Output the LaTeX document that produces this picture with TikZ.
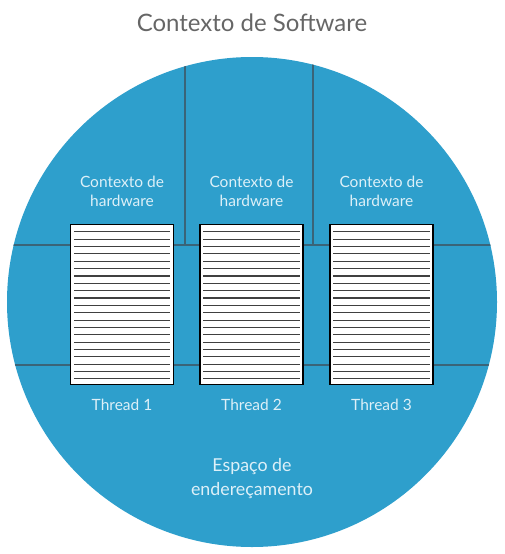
\documentclass[tikz,border=0pt]{standalone}
\usepackage{fontspec}
\setmainfont{Lato}
\definecolor{disc}{HTML}{2E9FCC}
\definecolor{divline}{HTML}{3A6478}
\definecolor{lighttext}{HTML}{DDF0F8}
\definecolor{titlegray}{HTML}{666666}
\tikzset{
  x=1pt, y=-1pt,
  divider/.style={draw=divline, line width=1.4pt},
  pagebox/.style={draw=black, fill=white, line width=1.3pt},
  pageline/.style={draw=black!75, line width=1.1pt},
  label/.style={text=lighttext, font=\fontsize{15.5}{19}\selectfont, align=center, inner sep=0pt},
}
\begin{document}
\begin{tikzpicture}
\useasboundingbox (0,0) rectangle (505,554);
\node[text=titlegray, font=\fontsize{24}{28}\selectfont, inner sep=0pt] (title) at (252,23) {Contexto de Software};
\fill[disc] (252,302) circle (245);
\begin{scope}
  \clip (252,302) circle (245);
  \draw[divider] (185,40) -- (185,245);
  \draw[divider] (313,40) -- (313,245);
  \draw[divider] (0,245) -- (505,245);
  \draw[divider] (0,365) -- (505,365);
\end{scope}
\foreach \i/\cx in {1/122, 2/251.5, 3/381.5} {
  \node[pagebox, minimum width=103pt, minimum height=160pt, inner sep=0pt] (page\i) at (\cx,304.5) {};
  \foreach \k in {0,...,20} {
    \draw[pageline] ([xshift=4pt, yshift=-8pt-7.35pt*\k]page\i.north west) -- ([xshift=-4pt, yshift=-8pt-7.35pt*\k]page\i.north east);
  }
  \node[label] (hw\i) at (\cx,191) {Contexto de\\hardware};
  \node[label] (th\i) at (\cx,405) {Thread \i};
}
\node[label, font=\fontsize{17.8}{24}\selectfont] (addr) at (252,479) {Espaço de\\endereçamento};
\end{tikzpicture}
\end{document}
